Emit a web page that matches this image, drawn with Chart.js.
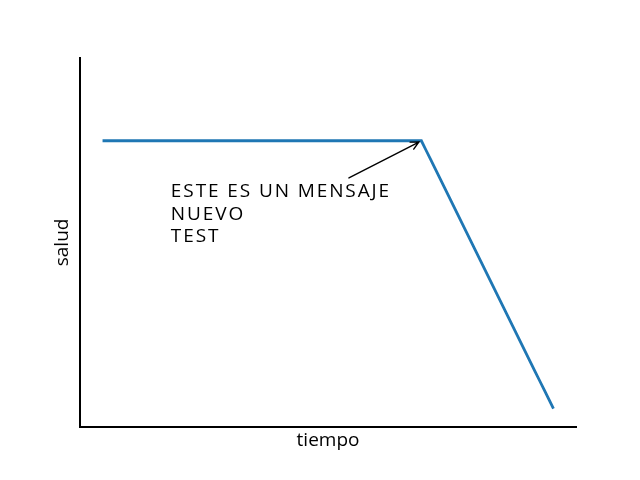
<!DOCTYPE html>
<html>
<head>
<meta charset="utf-8">
<script src="https://cdn.jsdelivr.net/npm/chart.js@4/dist/chart.umd.min.js"></script>
<style>
  html, body { margin: 0; padding: 0; background: #ffffff; }
  #wrap { width: 640px; height: 480px; position: relative; }
</style>
</head>
<body>
<div id="wrap"><canvas id="c" width="640" height="480"></canvas></div>
<script>
// ---- data ----
const tiempo = [
  0, 1, 2, 3, 4, 5, 6, 7, 8, 9,
  10, 11, 12, 13, 14, 15, 16, 17, 18, 19,
  20, 21, 22, 23, 24, 25, 26, 27, 28, 29,
  30, 31, 32, 33, 34, 35, 36, 37, 38, 39,
  40, 41, 42, 43, 44, 45, 46, 47, 48, 49,
  50, 51, 52, 53, 54, 55, 56, 57, 58, 59,
  60, 61, 62, 63, 64, 65, 66, 67, 68, 69,
  70, 71, 72, 73, 74, 75, 76, 77, 78, 79,
  80, 81, 82, 83, 84, 85, 86, 87, 88, 89,
  90, 91, 92, 93, 94, 95, 96, 97, 98, 99
];
const salud = [
  1, 1, 1, 1, 1, 1, 1, 1, 1, 1,
  1, 1, 1, 1, 1, 1, 1, 1, 1, 1,
  1, 1, 1, 1, 1, 1, 1, 1, 1, 1,
  1, 1, 1, 1, 1, 1, 1, 1, 1, 1,
  1, 1, 1, 1, 1, 1, 1, 1, 1, 1,
  1, 1, 1, 1, 1, 1, 1, 1, 1, 1,
  1, 1, 1, 1, 1, 1, 1, 1, 1, 1,
  1, 0, -1, -2, -3, -4, -5, -6, -7, -8,
  -9, -10, -11, -12, -13, -14, -15, -16, -17, -18,
  -19, -20, -21, -22, -23, -24, -25, -26, -27, -28
];
const xLimits = [-4.95, 103.95];
const yLimits = [-30, 10];
const annotationText = ['ESTE ES UN MENSAJE', 'NUEVO', 'TEST'];
const annotationXY = [70, 1];
const annotationTextXY = [15, -10];
const xLabel = 'tiempo';
const yLabel = 'salud';

const FONT = '"Open Sans", "DejaVu Sans", sans-serif';

const annotationPlugin = {
  id: 'annot',
  afterDatasetsDraw(chart) {
    const ctx = chart.ctx;
    const xs = chart.scales.x, ys = chart.scales.y;
    const tx = xs.getPixelForValue(annotationTextXY[0]);
    const ty = ys.getPixelForValue(annotationTextXY[1]);
    const px = xs.getPixelForValue(annotationXY[0]);
    const py = ys.getPixelForValue(annotationXY[1]);
    const lh = 22.6;
    ctx.save();
    ctx.font = '19px ' + FONT;
    if ('letterSpacing' in ctx) ctx.letterSpacing = '1.9px';
    ctx.fillStyle = '#000';
    ctx.textBaseline = 'alphabetic';
    ctx.textAlign = 'left';
    const n = annotationText.length;
    let maxW = 0;
    annotationText.forEach((t, i) => {
      ctx.fillText(t, tx, ty - (n - 1 - i) * lh);
      maxW = Math.max(maxW, ctx.measureText(t).width);
    });
    // text bbox
    const bTop = ty - (n - 1) * lh - 15 - 3;
    const bBot = ty + 4;
    const bL = tx - 2, bR = tx + maxW + 2;
    const cx = (bL + bR) / 2, cy = (bTop + bBot) / 2;
    let dx = px - cx, dy = py - cy;
    let t = Infinity;
    if (dy < 0) t = Math.min(t, (bTop - cy) / dy);
    if (dy > 0) t = Math.min(t, (bBot - cy) / dy);
    if (dx > 0) t = Math.min(t, (bR - cx) / dx);
    if (dx < 0) t = Math.min(t, (bL - cx) / dx);
    let sx = cx + dx * t, sy = cy + dy * t;
    const len = Math.hypot(px - sx, py - sy);
    const ux = (px - sx) / len, uy = (py - sy) / len;
    sx += ux * 2.8; sy += uy * 2.8;
    const ex = px - ux * 2.8, ey = py - uy * 2.8;
    ctx.strokeStyle = '#000';
    ctx.lineWidth = 1.4;
    ctx.lineCap = 'round';
    ctx.beginPath();
    ctx.moveTo(sx, sy);
    ctx.lineTo(ex, ey);
    const hl = 7.8, hw = 3.9;
    const nx = -uy, ny = ux;
    ctx.moveTo(ex - ux * hl + nx * hw, ey - uy * hl + ny * hw);
    ctx.lineTo(ex, ey);
    ctx.lineTo(ex - ux * hl - nx * hw, ey - uy * hl - ny * hw);
    ctx.stroke();
    ctx.restore();
  }
};

new Chart(document.getElementById('c'), {
  type: 'line',
  data: {
    labels: tiempo,
    datasets: [{
      data: salud,
      borderColor: '#1f77b4',
      borderWidth: 2.8,
      pointRadius: 0,
      tension: 0,
      fill: false
    }]
  },
  options: {
    responsive: false,
    animation: false,
    events: [],
    layout: { padding: { top: 57.6, right: 64, left: 0, bottom: 0 } },
    plugins: { legend: { display: false }, tooltip: { enabled: false } },
    scales: {
      x: {
        type: 'linear',
        min: xLimits[0], max: xLimits[1],
        grid: { display: false },
        border: { display: true, color: '#000', width: 2 },
        ticks: { display: false },
        title: {
          display: true, text: xLabel, color: '#000',
          font: { family: FONT, size: 19 }, padding: { top: 0, bottom: 27.6 }
        },
        afterFit(scale) { scale.height = 52.8; }
      },
      y: {
        type: 'linear',
        min: yLimits[0], max: yLimits[1],
        grid: { display: false },
        border: { display: true, color: '#000', width: 2 },
        ticks: { display: false },
        title: {
          display: true, text: yLabel, color: '#000',
          font: { family: FONT, size: 19 }, padding: { top: 51.6, bottom: 0 }
        },
        afterFit(scale) { scale.width = 80; }
      }
    }
  },
  plugins: [annotationPlugin]
});
</script>
</body>
</html>
